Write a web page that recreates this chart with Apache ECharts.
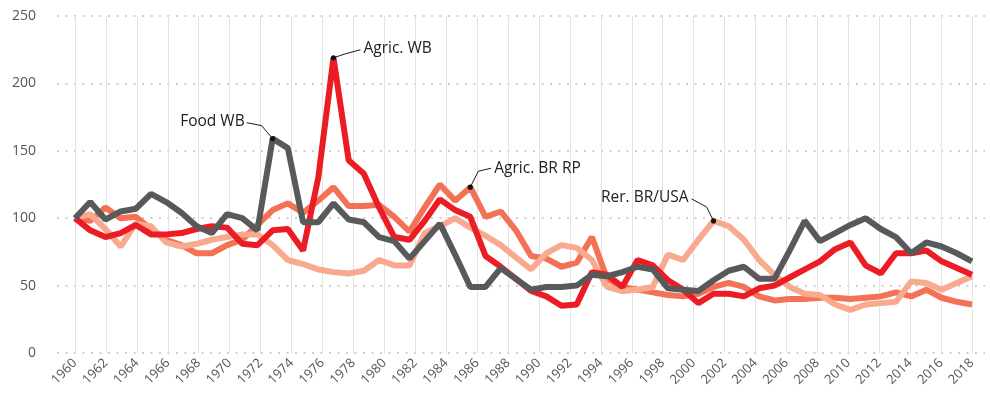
<!DOCTYPE html>
<html>
<head>
<meta charset="utf-8">
<script src="https://cdn.jsdelivr.net/npm/echarts@6/dist/echarts.min.js"></script>
<style>
html, body { margin: 0; background: #fff; }
#chart { width: 990px; height: 400px; }
</style>
</head>
<body>
<div id="chart"></div>
<script>
// tick labels on the time axis (one grid line every two years)
var years = ['1960','1961','1962','1963','1964','1965','1966','1967','1968','1969',
             '1970','1971','1972','1973','1974','1975','1976','1977','1978','1979',
             '1980','1981','1982','1983','1984','1985','1986','1987','1988','1989',
             '1990','1991','1992','1993','1994','1995','1996','1997','1998','1999',
             '2000','2001','2002','2003','2004','2005','2006','2007','2008','2009',
             '2010','2011','2012','2013','2014','2015','2016','2017','2018'];

// the series have one point more than the labelled years, spread over the same width
var points = ['1960','1961','1962','1963','1964','1965','1966','1967','1968','1969',
              '1970','1971','1972','1973','1974','1975','1976','1977','1978','1979',
              '1980','1981','1982','1983','1984','1985','1986','1987','1988','1989',
              '1990','1991','1992','1993','1994','1995','1996','1997','1998','1999',
              '2000','2001','2002','2003','2004','2005','2006','2007','2008','2009',
              '2010','2011','2012','2013','2014','2015','2016','2017','2018','2019'];

var agricBRRP = [100, 98,108,100,101, 92, 84, 80, 74, 74,
                  80, 84, 95,106,111,104,113,123,109,109,
                 110,101, 90,108,125,113,123,101,105, 91,
                  72, 70, 64, 67, 86, 55, 49, 47, 45, 43,
                  42, 44, 49, 52, 49, 42, 39, 40, 40, 41,
                  41, 40, 41, 42, 45, 42, 47, 41, 38, 36];

var rerBRUSA = [100,103, 92, 79, 96, 94, 82, 79, 81, 84,
                 86, 88, 88, 80, 69, 66, 62, 60, 59, 61,
                 69, 65, 65, 89, 94,100, 93, 87, 80, 71,
                 62, 74, 80, 78, 69, 49, 46, 47, 49, 73,
                 69, 84, 98, 94, 84, 69, 58, 49, 44, 43,
                 36, 32, 36, 37, 38, 53, 52, 47, 52, 57];

var agricWB = [100, 91, 86, 89, 95, 88, 88, 89, 92, 94,
                93, 81, 80, 91, 92, 76,130,219,143,133,
               108, 86, 84, 98,114,106,101, 72, 64, 55,
                46, 42, 35, 36, 60, 58, 49, 69, 65, 54,
                47, 37, 44, 44, 42, 48, 50, 56, 62, 68,
                77, 82, 65, 59, 74, 74, 76, 68, 63, 58];

var foodWB = [100,112, 99,105,107,118,112,104, 94, 89,
              103,100, 91,159,152, 97, 97,111, 99, 97,
               86, 83, 70, 83, 96, 73, 49, 49, 63, 55,
               47, 49, 49, 50, 58, 57, 60, 64, 62, 48,
               47, 46, 54, 61, 64, 55, 55, 76, 98, 83,
               89, 95,100, 92, 86, 74, 82, 79, 74, 68];

var myChart = echarts.init(document.getElementById('chart'));

var font = '"Open Sans", "Noto Sans", sans-serif';

// callouts: which point, and where the leader line and text go (pixel offsets)
var notes = [
    {text: 'Food WB', data: foodWB, at: 13, path: [[-11, -13], [-26, -16]], tx: -28, ty: -17, align: 'right'},
    {text: 'Agric. WB', data: agricWB, at: 17, path: [[12, -4], [27, -8]], tx: 30, ty: -9, align: 'left'},
    {text: 'Agric. BR RP', data: agricBRRP, at: 26, path: [[8, -16], [21, -19]], tx: 24, ty: -19, align: 'left'},
    {text: 'Rer. BR/USA', data: rerBRUSA, at: 42, path: [[-7, -14], [-22, -22]], tx: -25, ty: -23, align: 'right'}
];

function line(name, data, color) {
    return {
        name: name,
        type: 'line',
        xAxisIndex: 0,
        yAxisIndex: 0,
        data: data,
        showSymbol: false,
        silent: true,
        lineStyle: { color: color, width: 6, join: 'bevel', cap: 'butt' }
    };
}

var option = {
    animation: false,
    textStyle: { fontFamily: font },
    grid: [
        { left: 75, right: 18, top: 16, bottom: 47 },
        { left: 57, right: 5, top: 16, bottom: 47 }
    ],
    xAxis: [
        { type: 'category', gridIndex: 0, data: points, boundaryGap: false, position: 'top', show: false },
        {
            type: 'category', gridIndex: 0, data: years, boundaryGap: false, position: 'bottom',
            axisLine: { show: false },
            axisTick: { show: false },
            axisLabel: { interval: 1, rotate: 45, color: '#555', fontSize: 13, margin: 8, fontFamily: font },
            splitLine: { show: true, interval: 1, lineStyle: { color: '#e3e3e3', width: 1 } }
        },
        { type: 'value', gridIndex: 1, min: 0, max: 1, show: false }
    ],
    yAxis: [
        { type: 'value', gridIndex: 0, min: 0, max: 250, interval: 50, show: false },
        {
            type: 'value', gridIndex: 1, min: 0, max: 250, interval: 50,
            axisLine: { show: false },
            axisTick: { show: false },
            axisLabel: { color: '#555', fontSize: 14, margin: 21, fontFamily: font },
            splitLine: { lineStyle: { color: '#cfcfcf', width: 2, type: [2, 6.5] } }
        }
    ],
    series: [
        line('Agric. BR RP', agricBRRP, '#f37155'),
        line('Rer. BR/USA', rerBRUSA, '#f9aa8e'),
        line('Agric. WB', agricWB, '#ec1c24'),
        line('Food WB', foodWB, '#58595b'),
        {
            type: 'custom',
            xAxisIndex: 0,
            yAxisIndex: 0,
            silent: true,
            z: 10,
            data: notes.map(function (n) { return [n.at, n.data[n.at]]; }),
            renderItem: function (params, api) {
                var n = notes[params.dataIndex];
                var p = api.coord([api.value(0), api.value(1)]);
                var pts = [p];
                n.path.forEach(function (d) { pts.push([p[0] + d[0], p[1] + d[1]]); });
                return {
                    type: 'group',
                    children: [
                        { type: 'polyline', shape: { points: pts }, style: { stroke: '#1a1a1a', lineWidth: 1, fill: null } },
                        { type: 'circle', shape: { cx: p[0], cy: p[1], r: 2.6 }, style: { fill: '#111' } },
                        {
                            type: 'text',
                            x: p[0] + n.tx, y: p[1] + n.ty,
                            style: {
                                text: n.text, fill: '#222', fontSize: 15.5, fontFamily: font,
                                align: n.align, verticalAlign: 'middle'
                            }
                        }
                    ]
                };
            }
        }
    ]
};

myChart.setOption(option);
window.addEventListener('resize', function () {
    myChart.resize();
});
</script>
</body>
</html>
